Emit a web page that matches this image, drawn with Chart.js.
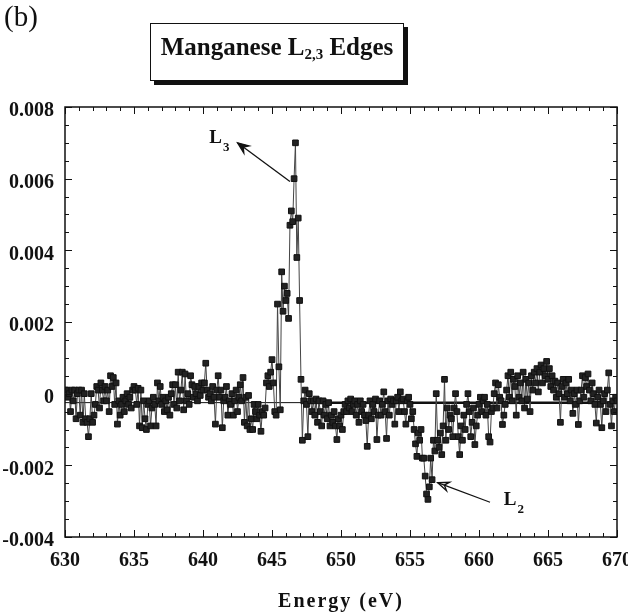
<!DOCTYPE html>
<html>
<head>
<meta charset="utf-8">
<script src="https://cdn.jsdelivr.net/npm/chart.js@4.4.1/dist/chart.umd.min.js"></script>
<style>
  html, body { margin: 0; padding: 0; background: #fff; }
  #wrap { position: relative; width: 628px; height: 615px; }
  #plot { position: absolute; left: 0; top: 0; }
  .panel { position: absolute; left: 4px; top: 0px; font: 29px "Liberation Serif", serif; color: #111; }
  .titlebox {
    position: absolute; left: 150px; top: 23px; width: 254px; height: 58px;
    box-sizing: border-box; border: 1.5px solid #111; box-shadow: 4px 4px 0 #111;
    background: #fff; text-align: center; padding-top: 9px;
    font: bold 25px "Liberation Serif", serif; color: #111;
  }
  .titlebox sub { font-size: 60%; vertical-align: -4px; }
  .xtitle {
    position: absolute; left: 65px; width: 552px; top: 589px; text-align: center;
    font: bold 20px "Liberation Serif", serif; letter-spacing: 2px; color: #111;
  }
</style>
</head>
<body>
<div id="wrap">
  <canvas id="plot" width="628" height="615"></canvas>
  <div class="panel">(b)</div>
  <div class="titlebox">Manganese L<sub>2,3</sub> Edges</div>
  <div class="xtitle">Energy (eV)</div>
</div>
<script>
// Mn L2,3 difference signal, sampled every 0.1 eV from 630 eV (values in units of 1e-3)
const E_START = 630;
const E_STEP = 0.1;
const signal = [
  0.1, 0.1, -0.1, 0.0, -0.5, 0.1, -0.2, 0.1, -0.7, 0.0,          // 630
  0.1, -0.6, 0.1, -0.8, 0.0, -0.7, -0.8, -1.2, -0.7, 0.0,        // 631
  -0.8, -0.6, -0.3, 0.2, 0.1, -0.4, 0.3, 0.1, -0.2, 0.2,         // 632
  -0.2, 0.1, -0.5, 0.5, 0.2, 0.45, -0.3, 0.3, -0.85, -0.2,       // 633
  -0.6, -0.3, -0.1, -0.5, -0.2, 0.0, -0.3, -0.1, -0.4, 0.1,      // 634
  0.2, 0.1, -0.3, 0.15, -0.9, 0.1, -0.95, -0.2, -0.7, -1.0,      // 635
  -0.3, -0.2, -0.9, -0.4, -0.1, -0.3, -0.9, 0.3, -0.2, 0.2,      // 636
  -0.3, -0.1, -0.5, -0.2, -0.45, -0.1, -0.6, 0.0, 0.25, -0.3,    // 637
  0.25, -0.4, 0.6, -0.2, 0.1, 0.6, -0.45, 0.55, -0.2, 0.0,       // 638
  -0.3, 0.5, 0.25, -0.1, 0.2, 0.0, -0.2, 0.2, -0.05, 0.3,        // 639
  0.1, 0.3, 0.85, 0.1, -0.1, 0.0, -0.2, 0.2, -0.1, -0.85,        // 640
  0.1, 0.5, -0.1, 0.1, -0.95, -0.2, -0.1, 0.2, -0.6, -0.2,       // 641
  -0.3, 0.0, -0.6, -0.2, 0.1, -0.5, -0.1, 0.25, -0.2, 0.45,      // 642
  -0.8, -0.1, -0.9, -0.05, -1.0, -0.7, -1.0, -0.3, -0.5, -0.7,   // 643
  -0.3, -0.6, -1.05, -0.5, -0.6, -0.4, 0.3, 0.5, 0.2, 0.6,       // 644
  0.95, 0.3, -0.5, -0.6, 2.5, 0.75, -0.45, 3.4, 2.3, 3.0,        // 645
  2.6, 2.8, 2.1, 4.7, 5.1, 4.8, 6.0, 7.0, 3.8, 4.9,              // 646
  2.6, 0.4, -1.3, -0.2, 0.1, -0.3, -1.2, 0.0, -0.2, -0.5,        // 647
  -0.2, -0.6, -0.15, -0.8, -0.2, -0.5, -0.9, -0.2, -0.6, -0.3,   // 648
  -0.7, -0.25, -0.9, -0.6, -0.8, -0.5, -0.9, -1.28, -0.7, -0.9,  // 649
  -0.6, -1.0, -0.5, -0.3, -0.5, -0.2, -0.4, -0.15, -0.5, -0.3,   // 650
  -0.2, -0.6, -0.3, -0.8, -0.2, -0.5, -0.3, -0.6, -0.75, -1.47,  // 651
  -0.6, -0.2, -0.7, -0.3, -0.5, -0.15, -1.28, -0.6, -0.2, -0.6,  // 652
  -0.3, 0.05, -0.5, -1.25, -0.2, -0.6, -0.15, -0.3, -0.2, -0.85, // 653
  -0.2, -0.1, -0.5, 0.05, -0.2, -0.15, -0.5, -0.85, -0.2, -0.1,  // 654
  -0.3, -0.7, -0.5, -1.0, -1.4, -1.75, -1.1, -1.3, -1.0, -1.8,   // 655
  -1.8, -2.3, -2.8, -2.95, -2.6, -1.8, -2.4, -1.3, -1.6, 0.0,    // 656
  -1.3, -1.5, -1.1, -1.7, -0.9, 0.4, -1.3, -0.4, -1.0, -0.6,     // 657
  -0.7, -1.2, -0.4, 0.0, -0.5, -1.2, -1.7, -0.9, -1.3, -0.6,     // 658
  -1.0, -0.3, 0.0, -0.5, -1.2, -0.8, -0.4, -1.42, -0.9, -0.6,    // 659
  -0.3, -0.1, -0.5, -0.2, -0.1, -0.6, -0.3, -1.2, -1.35, -0.5,   // 660
  -0.4, 0.0, 0.3, -0.4, 0.25, -0.1, -0.2, -0.86, -0.6, -0.3,     // 661
  0.1, 0.5, -0.1, 0.6, -0.2, 0.4, 0.2, -0.6, 0.5, -0.1,          // 662
  0.3, -0.2, 0.6, -0.4, 0.4, -0.15, 0.3, -0.5, 0.5, 0.1,         // 663
  0.6, 0.3, 0.7, 0.05, 0.6, 0.8, 0.3, 0.7, 0.5, 0.9,             // 664
  0.4, 0.7, 0.2, 0.5, 0.1, 0.35, -0.1, 0.3, 0.0, -0.8,           // 665
  0.2, 0.4, -0.1, 0.3, 0.0, 0.4, -0.2, 0.1, -0.55, 0.0,          // 666
  -0.3, 0.1, -0.86, -0.2, 0.1, 0.5, -0.1, 0.45, 0.2, 0.55,       // 667
  0.1, -0.2, 0.3, 0.0, -0.3, -0.82, -0.1, 0.1, -0.3, -0.95,      // 668
  -0.2, 0.0, -0.5, 0.1, 0.58, -0.3, -0.9, -0.2, -0.5, -0.1,      // 669
  -0.2                                                           // 670
];

// reference level drawn across the plot (thin left part, heavy right part)
const baseLevel = -0.00025;
const baseThinE = [630, 649];
const baseHeavyE = [649, 670];

const xTickValues = [630, 635, 640, 645, 650, 655, 660, 665, 670];
const yTickValues = [-0.004, -0.002, 0, 0.002, 0.004, 0.006, 0.008];

// edge labels with arrows: [energy, value]
const edgeNotes = [
  { name: 'L', sub: '3', at: [640.45, 0.00712], tip: [642.5, 0.00700], tail: [646.3, 0.00592], filled: true },
  { name: 'L', sub: '2', at: [661.8, -0.00298], tip: [657.0, -0.00248], tail: [660.8, -0.00303], filled: false }
];

const points = signal.map((v, i) => ({ x: E_START + i * E_STEP, y: v / 1000 }));

const serif = '"Liberation Serif", "Times New Roman", serif';

// inward tick marks on all four sides plus the frame
const frameTicks = {
  id: 'frameTicks',
  afterDatasetsDraw(chart) {
    const { ctx, chartArea: a, scales: { x, y } } = chart;
    ctx.save();
    ctx.strokeStyle = '#111';
    ctx.lineWidth = 1;
    ctx.beginPath();
    for (let e = 630; e <= 670; e++) {
      const px = Math.round(x.getPixelForValue(e)) + 0.5;
      const len = e % 5 === 0 ? 7 : 4;
      ctx.moveTo(px, a.bottom); ctx.lineTo(px, a.bottom - len);
      ctx.moveTo(px, a.top); ctx.lineTo(px, a.top + len);
    }
    for (let k = -8; k <= 16; k++) {
      const py = Math.round(y.getPixelForValue(k * 0.0005)) + 0.5;
      const len = k % 4 === 0 ? 7 : 4;
      ctx.moveTo(a.left, py); ctx.lineTo(a.left + len, py);
      ctx.moveTo(a.right, py); ctx.lineTo(a.right - len, py);
    }
    ctx.stroke();
    ctx.lineWidth = 1.5;
    ctx.strokeRect(a.left, a.top, a.right - a.left, a.bottom - a.top);
    ctx.restore();
  }
};

const edgeArrows = {
  id: 'edgeArrows',
  afterDraw(chart) {
    const { ctx, scales: { x, y } } = chart;
    ctx.save();
    ctx.strokeStyle = '#111';
    ctx.fillStyle = '#111';
    edgeNotes.forEach(n => {
      const tx = x.getPixelForValue(n.tip[0]), ty = y.getPixelForValue(n.tip[1]);
      const sx = x.getPixelForValue(n.tail[0]), sy = y.getPixelForValue(n.tail[1]);
      const ang = Math.atan2(ty - sy, tx - sx);
      ctx.lineWidth = 1.3;
      ctx.beginPath();
      ctx.moveTo(sx, sy);
      ctx.lineTo(tx, ty);
      ctx.stroke();
      const hl = 12, hw = 0.38;
      ctx.beginPath();
      ctx.moveTo(tx, ty);
      ctx.lineTo(tx - hl * Math.cos(ang - hw), ty - hl * Math.sin(ang - hw));
      ctx.lineTo(tx - hl * 0.6 * Math.cos(ang), ty - hl * 0.6 * Math.sin(ang));
      ctx.lineTo(tx - hl * Math.cos(ang + hw), ty - hl * Math.sin(ang + hw));
      ctx.closePath();
      if (n.filled) ctx.fill();
      ctx.stroke();

      const lx = x.getPixelForValue(n.at[0]), ly = y.getPixelForValue(n.at[1]);
      ctx.textBaseline = 'middle';
      ctx.textAlign = 'left';
      ctx.font = 'bold 19px ' + serif;
      ctx.fillText(n.name, lx, ly);
      const w = ctx.measureText(n.name).width;
      ctx.font = 'bold 13px ' + serif;
      ctx.fillText(n.sub, lx + w + 1, ly + 9);
    });
    ctx.restore();
  }
};

new Chart(document.getElementById('plot'), {
  type: 'line',
  data: {
    datasets: [
      {
        data: points,
        borderColor: '#444',
        borderWidth: 1,
        pointStyle: 'rect',
        pointRadius: 4,
        pointBackgroundColor: '#222',
        pointBorderColor: '#111',
        pointBorderWidth: 1,
        tension: 0,
        order: 1
      },
      {
        data: baseThinE.map(e => ({ x: e, y: baseLevel })),
        borderColor: '#111',
        borderWidth: 1,
        pointRadius: 0,
        order: 2
      },
      {
        data: baseHeavyE.map(e => ({ x: e, y: baseLevel })),
        borderColor: '#111',
        borderWidth: 2.5,
        pointRadius: 0,
        order: 2
      }
    ]
  },
  options: {
    responsive: false,
    animation: false,
    layout: { padding: { top: 107, right: 11, left: 0, bottom: 0 } },
    plugins: { legend: { display: false }, tooltip: { enabled: false } },
    scales: {
      x: {
        type: 'linear',
        min: 630,
        max: 670,
        afterBuildTicks: s => { s.ticks = xTickValues.map(v => ({ value: v })); },
        afterFit: s => { s.height = 78; s.paddingLeft = 0; s.paddingRight = 0; },
        grid: { display: false, drawTicks: false },
        border: { display: false },
        ticks: {
          padding: 12,
          maxRotation: 0,
          color: '#111',
          font: { family: serif, size: 20, weight: 'bold' },
          callback: v => String(v)
        }
      },
      y: {
        type: 'linear',
        min: -0.004,
        max: 0.008,
        afterBuildTicks: s => { s.ticks = yTickValues.map(v => ({ value: v })); },
        afterFit: s => { s.width = 65; s.paddingTop = 0; s.paddingBottom = 0; },
        grid: { display: false, drawTicks: false },
        border: { display: false },
        ticks: {
          padding: 11,
          labelOffset: 4,
          color: '#111',
          font: { family: serif, size: 20, weight: 'bold' },
          callback: v => Math.abs(v) < 1e-9 ? '0' : v.toFixed(3)
        }
      }
    }
  },
  plugins: [frameTicks, edgeArrows]
});
</script>
</body>
</html>
